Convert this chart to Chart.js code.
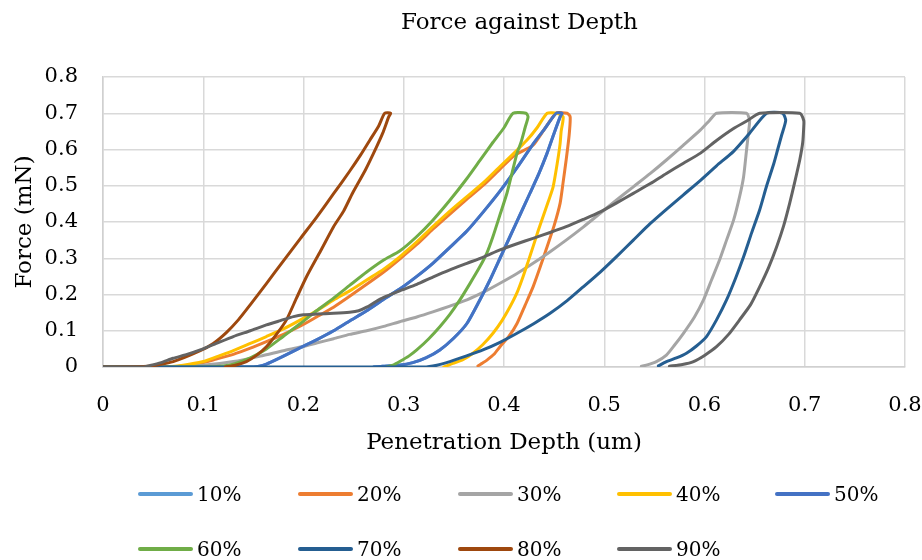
<!DOCTYPE html>
<html>
<head>
<meta charset="utf-8">
<script src="https://cdn.jsdelivr.net/npm/chart.js@4.4.1/dist/chart.umd.min.js"></script>
<style>
  body { margin: 0; background: #fff; }
  #wrap { position: relative; width: 922px; height: 560px; }
  #title { position: absolute; left: 0; top: 7px; width: 1039px; text-align: center; font: 23px/28px "DejaVu Serif", serif; color: #000; }
  #legend { position: absolute; left: 0; top: 0; width: 922px; height: 560px; pointer-events: none; }
  .item { position: absolute; display: flex; align-items: center; font: 20px "DejaVu Serif", serif; color: #000; white-space: nowrap; }
  .swatch { display: inline-block; width: 55px; height: 4px; border-radius: 2px; margin-right: 4px; }
</style>
</head>
<body>
<div id="wrap">
  <canvas id="chart" width="922" height="560"></canvas>
  <div id="title">Force against Depth</div>
  <div id="legend"></div>
</div>
<script>
const seriesNames = ['10%', '20%', '30%', '40%', '50%', '60%', '70%', '80%', '90%'];
const palette = ['#5b9bd5', '#ed7d31', '#a5a5a5', '#ffc000', '#4472c4', '#70ad47', '#255e91', '#9e480e', '#636363'];

const xTicks = [0, 0.1, 0.2, 0.3, 0.4, 0.5, 0.6, 0.7, 0.8];
const yTicks = [0, 0.1, 0.2, 0.3, 0.4, 0.5, 0.6, 0.7, 0.8];

// 10% sits underneath 50% in the source chart
const depth10 = [0, 0.15, 0.163, 0.18, 0.196, 0.213, 0.23, 0.246, 0.263, 0.28, 0.296, 0.313, 0.329, 0.346, 0.363, 0.38, 0.396, 0.413, 0.429, 0.44, 0.452, 0.458,
  0.456, 0.45, 0.443, 0.435, 0.426, 0.416, 0.406, 0.396, 0.386, 0.375, 0.363, 0.35, 0.336, 0.322, 0.309, 0.295, 0.279, 0.27];
const force10 = [0, 0, 0.008, 0.03, 0.052, 0.075, 0.1, 0.127, 0.155, 0.187, 0.215, 0.25, 0.286, 0.33, 0.375, 0.43, 0.485, 0.55, 0.615, 0.655, 0.7, 0.7,
  0.69, 0.645, 0.59, 0.535, 0.48, 0.42, 0.36, 0.3, 0.24, 0.18, 0.12, 0.08, 0.047, 0.025, 0.012, 0.005, 0.002, 0];

const depth20 = [0, 0.065, 0.085, 0.1, 0.113, 0.13, 0.147, 0.163, 0.18, 0.197, 0.213, 0.23, 0.246, 0.263, 0.28, 0.296, 0.313, 0.329, 0.346, 0.363, 0.38, 0.396, 0.41, 0.429, 0.44, 0.452, 0.463,
  0.466, 0.465, 0.462, 0.459, 0.456, 0.45, 0.443, 0.436, 0.429, 0.421, 0.413, 0.405, 0.396, 0.39, 0.383, 0.378, 0.374];
const force20 = [0, 0, 0.004, 0.012, 0.022, 0.035, 0.052, 0.07, 0.09, 0.113, 0.138, 0.165, 0.195, 0.228, 0.262, 0.298, 0.338, 0.38, 0.422, 0.463, 0.503, 0.546, 0.583, 0.612, 0.655, 0.7, 0.7,
  0.69, 0.64, 0.571, 0.51, 0.452, 0.39, 0.332, 0.275, 0.221, 0.17, 0.12, 0.085, 0.056, 0.035, 0.019, 0.01, 0.003];

const depth30 = [0, 0.05, 0.08, 0.1, 0.13, 0.157, 0.18, 0.197, 0.213, 0.23, 0.246, 0.263, 0.28, 0.296, 0.313, 0.329, 0.346, 0.363, 0.38, 0.396, 0.413, 0.429, 0.446, 0.462, 0.479, 0.496, 0.512, 0.529, 0.546, 0.562, 0.579, 0.596, 0.605, 0.612, 0.642,
  0.645, 0.644, 0.642, 0.639, 0.635, 0.629, 0.622, 0.615, 0.607, 0.599, 0.59, 0.579, 0.57, 0.562, 0.552, 0.542, 0.537];
const force30 = [0, 0, 0.002, 0.005, 0.015, 0.03, 0.045, 0.055, 0.066, 0.078, 0.09, 0.1, 0.112, 0.125, 0.138, 0.152, 0.168, 0.185, 0.207, 0.231, 0.258, 0.286, 0.318, 0.35, 0.386, 0.424, 0.46, 0.497, 0.534, 0.571, 0.612, 0.654, 0.68, 0.7, 0.7,
  0.68, 0.65, 0.6, 0.525, 0.47, 0.405, 0.35, 0.295, 0.24, 0.185, 0.138, 0.093, 0.06, 0.033, 0.015, 0.005, 0.002];

const depth40 = [0, 0.06, 0.08, 0.1, 0.113, 0.13, 0.147, 0.163, 0.18, 0.197, 0.213, 0.23, 0.246, 0.263, 0.28, 0.296, 0.313, 0.329, 0.346, 0.363, 0.38, 0.396, 0.41, 0.423, 0.433, 0.443, 0.453,
  0.459, 0.457, 0.456, 0.453, 0.449, 0.444, 0.439, 0.434, 0.429, 0.424, 0.419, 0.413, 0.406, 0.398, 0.389, 0.379, 0.369, 0.359, 0.349, 0.34];
const force40 = [0, 0, 0.005, 0.015, 0.028, 0.045, 0.065, 0.084, 0.105, 0.13, 0.155, 0.185, 0.21, 0.24, 0.27, 0.304, 0.345, 0.387, 0.43, 0.47, 0.51, 0.553, 0.59, 0.626, 0.66, 0.7, 0.7,
  0.69, 0.65, 0.617, 0.56, 0.497, 0.455, 0.415, 0.375, 0.332, 0.29, 0.249, 0.205, 0.166, 0.128, 0.093, 0.062, 0.038, 0.02, 0.01, 0];

const depth50 = [0, 0.15, 0.163, 0.18, 0.196, 0.213, 0.23, 0.246, 0.263, 0.28, 0.296, 0.313, 0.329, 0.346, 0.363, 0.38, 0.396, 0.413, 0.429, 0.44, 0.452, 0.458,
  0.456, 0.45, 0.443, 0.435, 0.426, 0.416, 0.406, 0.396, 0.386, 0.375, 0.363, 0.35, 0.336, 0.322, 0.309, 0.295, 0.279, 0.27];
const force50 = [0, 0, 0.008, 0.03, 0.052, 0.075, 0.1, 0.127, 0.155, 0.187, 0.215, 0.25, 0.286, 0.33, 0.375, 0.43, 0.485, 0.55, 0.615, 0.655, 0.7, 0.7,
  0.69, 0.645, 0.59, 0.535, 0.48, 0.42, 0.36, 0.3, 0.24, 0.18, 0.12, 0.08, 0.047, 0.025, 0.012, 0.005, 0.002, 0];

const depth60 = [0, 0.1, 0.12, 0.13, 0.147, 0.163, 0.18, 0.197, 0.213, 0.23, 0.246, 0.263, 0.28, 0.296, 0.313, 0.329, 0.346, 0.363, 0.376, 0.389, 0.4, 0.409, 0.422,
  0.424, 0.421, 0.417, 0.413, 0.408, 0.403, 0.396, 0.389, 0.383, 0.376, 0.366, 0.356, 0.346, 0.336, 0.325, 0.313, 0.305, 0.296, 0.29, 0.283];
const force60 = [0, 0, 0.003, 0.008, 0.025, 0.05, 0.085, 0.12, 0.155, 0.19, 0.225, 0.262, 0.295, 0.32, 0.36, 0.405, 0.46, 0.52, 0.57, 0.62, 0.66, 0.7, 0.7,
  0.69, 0.66, 0.62, 0.59, 0.535, 0.48, 0.42, 0.36, 0.315, 0.277, 0.23, 0.185, 0.145, 0.111, 0.078, 0.047, 0.03, 0.015, 0.006, 0];

const depth70 = [0, 0.32, 0.333, 0.346, 0.362, 0.379, 0.396, 0.413, 0.43, 0.446, 0.463, 0.479, 0.496, 0.512, 0.529, 0.546, 0.562, 0.579, 0.596, 0.612, 0.629, 0.645, 0.662, 0.678,
  0.681, 0.677, 0.673, 0.669, 0.662, 0.655, 0.647, 0.639, 0.631, 0.622, 0.612, 0.602, 0.592, 0.582, 0.572, 0.562, 0.554];
const force70 = [0, 0, 0.005, 0.015, 0.03, 0.047, 0.068, 0.093, 0.12, 0.148, 0.183, 0.221, 0.262, 0.304, 0.35, 0.396, 0.435, 0.475, 0.515, 0.555, 0.595, 0.645, 0.7, 0.7,
  0.68, 0.64, 0.6, 0.56, 0.5, 0.433, 0.37, 0.304, 0.245, 0.185, 0.13, 0.084, 0.058, 0.038, 0.025, 0.015, 0.003];

const depth80 = [0, 0.045, 0.07, 0.097, 0.11, 0.123, 0.135, 0.147, 0.163, 0.18, 0.197, 0.213, 0.23, 0.246, 0.257, 0.266, 0.275, 0.281, 0.287,
  0.285, 0.279, 0.273, 0.262, 0.249, 0.24, 0.23, 0.217, 0.203, 0.193, 0.183, 0.173, 0.163, 0.153, 0.143, 0.132, 0.122];
const force80 = [0, 0.002, 0.015, 0.045, 0.065, 0.095, 0.13, 0.172, 0.23, 0.293, 0.355, 0.413, 0.478, 0.54, 0.585, 0.625, 0.665, 0.7, 0.7,
  0.69, 0.645, 0.608, 0.545, 0.48, 0.43, 0.387, 0.32, 0.249, 0.19, 0.13, 0.09, 0.056, 0.032, 0.015, 0.005, 0];

const depth90 = [0, 0.04, 0.047, 0.058, 0.07, 0.083, 0.097, 0.113, 0.13, 0.147, 0.163, 0.177, 0.19, 0.2, 0.213, 0.23, 0.246, 0.255, 0.263, 0.272, 0.28, 0.296, 0.313, 0.329, 0.346, 0.363, 0.38, 0.396, 0.413, 0.429, 0.446, 0.462, 0.479, 0.496, 0.512, 0.529, 0.546, 0.562, 0.579, 0.596, 0.612, 0.629, 0.643, 0.655, 0.695,
  0.699, 0.699, 0.698, 0.695, 0.69, 0.685, 0.679, 0.672, 0.664, 0.655, 0.646, 0.635, 0.624, 0.612, 0.6, 0.589, 0.578, 0.565];
const force90 = [0, 0, 0.004, 0.012, 0.024, 0.034, 0.047, 0.065, 0.084, 0.1, 0.116, 0.128, 0.139, 0.144, 0.146, 0.148, 0.151, 0.155, 0.165, 0.18, 0.192, 0.21, 0.228, 0.248, 0.268, 0.286, 0.304, 0.323, 0.34, 0.355, 0.371, 0.387, 0.407, 0.428, 0.452, 0.479, 0.506, 0.534, 0.562, 0.59, 0.625, 0.658, 0.68, 0.7, 0.7,
  0.68, 0.663, 0.62, 0.571, 0.51, 0.452, 0.39, 0.332, 0.275, 0.221, 0.172, 0.13, 0.09, 0.056, 0.032, 0.015, 0.007, 0.002];

const depths = [depth10, depth20, depth30, depth40, depth50, depth60, depth70, depth80, depth90];
const forces = [force10, force20, force30, force40, force50, force60, force70, force80, force90];

const serif = '"DejaVu Serif", serif';

const toPoints = (xs, ys) => xs.map((x, i) => ({ x, y: ys[i] }));

const datasets = seriesNames.map((name, idx) => ({
  label: name,
  data: toPoints(depths[idx], forces[idx]),
  borderColor: palette[idx],
  backgroundColor: palette[idx],
  borderWidth: 3,
  pointRadius: 0,
  showLine: true,
  tension: 0.2,
  borderJoinStyle: 'round',
  borderCapStyle: 'round',
  // later series paint over earlier ones, like the original
  order: seriesNames.length - idx,
}));

const tickFormat = (list) => (value) => {
  const hit = list.find((t) => Math.abs(t - value) < 1e-6);
  return hit === undefined ? '' : String(hit);
};

new Chart(document.getElementById('chart').getContext('2d'), {
  type: 'scatter',
  data: { datasets },
  options: {
    responsive: false,
    animation: false,
    layout: { padding: { left: 0, right: 17, top: 77, bottom: 93 } },
    plugins: {
      legend: { display: false },
      tooltip: { enabled: false },
      title: { display: false },
    },
    scales: {
      x: {
        type: 'linear',
        min: 0,
        max: 0.8,
        afterFit: (scale) => {
          scale.height = 100;
          scale.paddingLeft = 0;
          scale.paddingRight = 0;
        },
        afterBuildTicks: (scale) => { scale.ticks = xTicks.map((value) => ({ value })); },
        grid: { color: '#d9d9d9', lineWidth: 1.5, drawTicks: false },
        border: { color: '#d0d0d0', width: 1.5 },
        ticks: { padding: 26, color: '#000', font: { family: serif, size: 21 }, callback: tickFormat(xTicks) },
        title: {
          display: true,
          text: 'Penetration Depth (um)',
          color: '#000',
          font: { family: serif, size: 23, lineHeight: 1.2 },
          padding: { top: 0, bottom: 10 },
        },
      },
      y: {
        type: 'linear',
        min: 0,
        max: 0.8,
        afterFit: (scale) => {
          scale.width = 103;
          scale.paddingTop = 0;
          scale.paddingBottom = 0;
        },
        afterBuildTicks: (scale) => { scale.ticks = yTicks.map((value) => ({ value })); },
        grid: { color: '#d9d9d9', lineWidth: 1.5, drawTicks: false },
        border: { color: '#d0d0d0', width: 1.5 },
        ticks: { padding: 25, color: '#000', font: { family: serif, size: 21 }, callback: tickFormat(yTicks) },
        title: {
          display: true,
          text: 'Force (mN)',
          color: '#000',
          font: { family: serif, size: 23, lineHeight: 1.2 },
          padding: { top: 11, bottom: 0 },
        },
      },
    },
  },
});

const legendCols = [138, 298, 458, 617, 775];
const legendRows = [494, 549];
const legendEl = document.getElementById('legend');
legendEl.innerHTML = seriesNames.map((name, idx) => {
  const left = legendCols[idx % legendCols.length];
  const top = legendRows[Math.floor(idx / legendCols.length)] - 14;
  return `<div class="item" style="left:${left}px;top:${top}px;height:28px"><span class="swatch" style="background:${palette[idx]}"></span>${name}</div>`;
}).join('');
</script>
</body>
</html>
